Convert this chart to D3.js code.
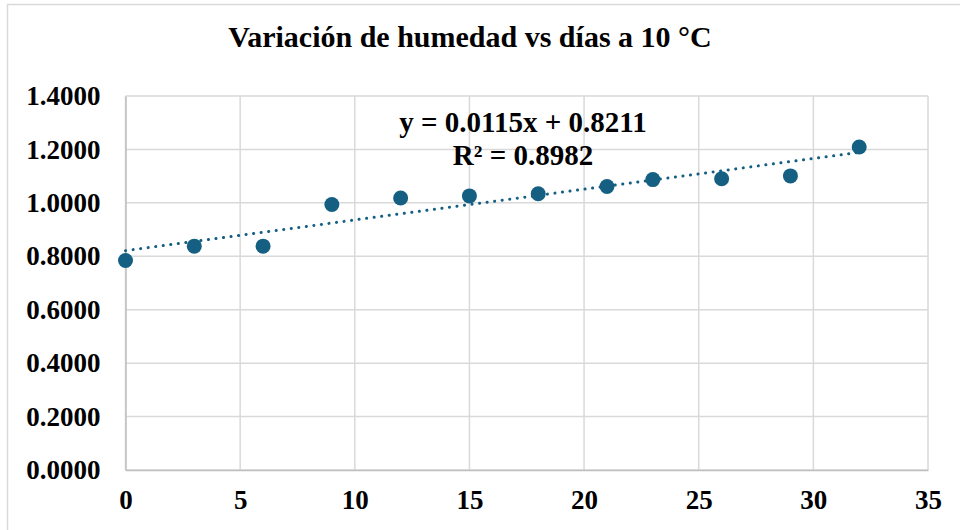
<!DOCTYPE html>
<html lang="es">
<head>
<meta charset="utf-8">
<title>Variación de humedad</title>
<script src="https://cdn.jsdelivr.net/npm/d3@7"></script>
<style>
  body { margin: 0; background: #fff; }
  text { font-family: "Liberation Serif", "DejaVu Serif", serif; font-weight: bold; fill: #000; }
</style>
</head>
<body>
<div id="chart"></div>
<script>
// data
var dias = [0, 3, 6, 9, 12, 15, 18, 21, 23, 26, 29, 32]
var humedad = [0.784, 0.838, 0.838, 0.994, 1.018, 1.026, 1.034, 1.061, 1.087, 1.090, 1.101, 1.209]
var xTicks = [0, 5, 10, 15, 20, 25, 30, 35]
var yTicks = [0, 0.2, 0.4, 0.6, 0.8, 1.0, 1.2, 1.4]
var titulo = "Variación de humedad vs días a 10 °C"
var pendiente = 0.0115
var intercepto = 0.8211
var etiquetas = ["y = 0.0115x + 0.8211", "R² = 0.8982"]

var W = 960, H = 530
var m = {left: 125.5, right: 32, top: 96, bottom: 60}

var svg = d3.select("#chart").append("svg")
    .attr("width", W)
    .attr("height", H)

// chart border
svg.append("rect")
    .attr("x", 7.5).attr("y", 4.5)
    .attr("width", W + 20).attr("height", H + 20)
    .attr("fill", "#fff")
    .attr("stroke", "#d9d9d9")
    .attr("stroke-width", 1.5)

var x = d3.scaleLinear().domain([0, 35]).range([m.left, W - m.right])
var y = d3.scaleLinear().domain([0, 1.4]).range([H - m.bottom, m.top])

// grid
svg.append("g").selectAll("line")
    .data(xTicks)
    .enter().append("line")
    .attr("x1", function(d){ return x(d) }).attr("x2", function(d){ return x(d) })
    .attr("y1", y(0)).attr("y2", y(1.4))
    .attr("stroke", "#d9d9d9").attr("stroke-width", 1.5)

svg.append("g").selectAll("line")
    .data(yTicks)
    .enter().append("line")
    .attr("x1", x(0)).attr("x2", x(35))
    .attr("y1", function(d){ return y(d) }).attr("y2", function(d){ return y(d) })
    .attr("stroke", "#d9d9d9").attr("stroke-width", 1.5)

// axes (labels only)
var xAxis = svg.append("g")
    .attr("transform", "translate(0," + y(0) + ")")
    .call(d3.axisBottom(x).tickValues(xTicks).tickSize(0).tickPadding(20).tickFormat(d3.format("d")))
xAxis.attr("font-family", null)
xAxis.select(".domain").attr("stroke", "#bfbfbf").attr("stroke-width", 1.5)
xAxis.selectAll("text").attr("font-size", 27)

var yAxis = svg.append("g")
    .attr("transform", "translate(" + x(0) + ",0)")
    .call(d3.axisLeft(y).tickValues(yTicks).tickSize(0).tickPadding(25).tickFormat(d3.format(".4f")))
yAxis.attr("font-family", null)
yAxis.select(".domain").attr("stroke", "#bfbfbf").attr("stroke-width", 1.5)
yAxis.selectAll("text").attr("font-size", 27)

// trendline
var xs = [0, d3.max(dias)]
svg.append("line")
    .attr("x1", x(xs[0])).attr("y1", y(intercepto + pendiente * xs[0]))
    .attr("x2", x(xs[1])).attr("y2", y(intercepto + pendiente * xs[1]))
    .attr("stroke", "#156082")
    .attr("stroke-width", 3)
    .attr("stroke-linecap", "round")
    .attr("stroke-dasharray", "0.1 7.5")

// points
svg.selectAll(".dots")
    .data(dias)
    .enter().append("circle")
    .attr("class", "dots")
    .attr("cx", function(d){ return x(d) })
    .attr("cy", function(d, i){ return y(humedad[i]) })
    .attr("r", 7.5)
    .attr("fill", "#156082")

// title
svg.append("text")
    .attr("x", 470).attr("y", 47)
    .attr("text-anchor", "middle")
    .attr("font-size", 30)
    .text(titulo)

// equation label
svg.selectAll(".eq")
    .data(etiquetas)
    .enter().append("text")
    .attr("class", "eq")
    .attr("x", 523)
    .attr("y", function(d, i){ return 132 + i * 33 })
    .attr("text-anchor", "middle")
    .attr("font-size", 29)
    .text(function(d){ return d })
</script>
</body>
</html>
